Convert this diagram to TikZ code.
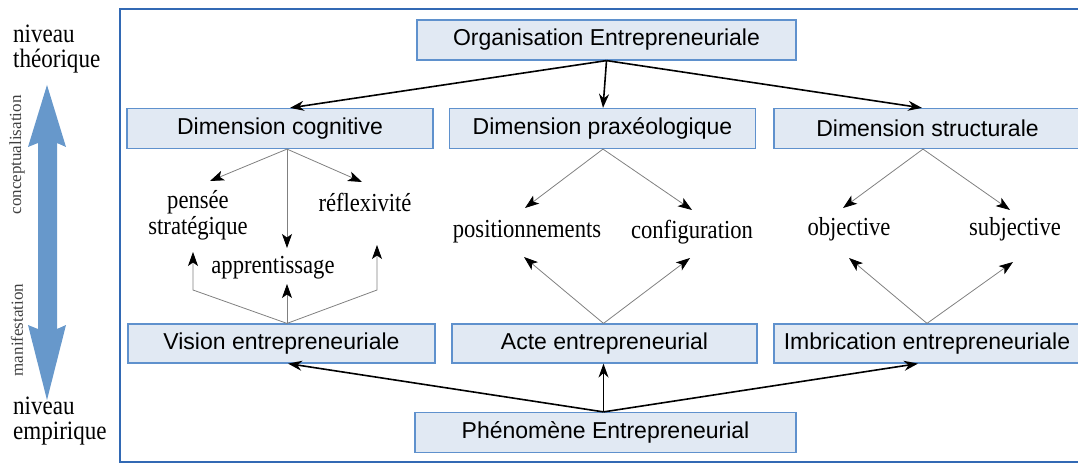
\documentclass[tikz,border=0pt]{standalone}
\usepackage{fontspec}
\setmainfont{Liberation Serif}
\newfontfamily\arialfont{Liberation Sans}
\newfontfamily\condserif[FakeStretch=0.87]{Liberation Serif}
\usetikzlibrary{arrows.meta}
\definecolor{boxfill}{RGB}{225,233,243}
\definecolor{boxedge}{RGB}{95,145,205}
\definecolor{frameblue}{RGB}{50,105,180}
\definecolor{bigarrow}{RGB}{103,152,203}
\tikzset{
  box/.style={draw=boxedge, line width=1.2pt, fill=boxfill, minimum height=40pt, inner sep=0pt,
    font=\arialfont\fontsize{23}{27}\selectfont},
  lbl/.style={inner sep=0pt, font=\condserif\fontsize{26}{28}\selectfont, align=center},
  side/.style={inner sep=0pt, font=\condserif\fontsize{26.5}{30}\selectfont, align=left, anchor=west},
  bigarr/.style={-{Stealth[length=14pt,width=10pt]}, line width=1.6pt, black},
  garr/.style={draw=gray, line width=0.8pt, -{Stealth[length=14pt,width=10pt,inset=3.5pt,black]}},
  rotlbl/.style={rotate=90, inner sep=0pt, font=\fontsize{17}{19}\selectfont, text=black!75},
}
\begin{document}
\begin{tikzpicture}[x=1pt,y=-1pt]
\useasboundingbox (0,0) rectangle (1078,470);
\begin{scope}
\clip (0,0) rectangle (1078,470);
% frame
\draw[frameblue, line width=2pt] (1100,9) -- (120,9) -- (120,462) -- (1100,462);
% boxes
\node[box, minimum width=379pt] (org) at (606.5,40) {Organisation Entrepreneuriale};
\node[box, minimum width=306pt] (dc) at (280,128.5) {Dimension cognitive};
\node[box, minimum width=306pt] (dp) at (602.5,128.5) {Dimension praxéologique};
\node[box, minimum width=307pt] (ds) at (927.5,128.5) {Dimension structurale};
\node[box, minimum width=307pt, minimum height=39pt] (ve) at (281.5,343.5) {Vision entrepreneuriale};
\node[box, minimum width=305pt, minimum height=39pt] (ae) at (604.5,343.5) {Acte entrepreneurial};
\node[box, minimum width=306pt, minimum height=39pt] (ie) at (927,343.5) {Imbrication entrepreneuriale};
\node[box, minimum width=381pt] (pe) at (605.5,432.5) {Phénomène Entrepreneurial};
\end{scope}
% big arrows
\draw[bigarr] (org.south) -- ([xshift=10pt]dc.north);
\draw[bigarr] (org.south) -- ([xshift=0.5pt]dp.north);
\draw[bigarr] (org.south) -- ([xshift=-5.5pt]ds.north);
\draw[bigarr] ([xshift=-2pt]pe.north) -- ([xshift=6.5pt]ve.south);
\draw[bigarr] ([xshift=-2pt]pe.north) -- ([xshift=-1pt]ae.south);
\draw[bigarr] ([xshift=-2pt]pe.north) -- ([xshift=-9pt]ie.south);
% inner labels
\node[lbl] (pst) at (198,215) {pensée\\[-2pt]stratégique};
\node[lbl] (refl) at (365,202) {réflexivité};
\node[lbl] (app) at (273,268) {apprentissage};
\node[lbl] (pos) at (527,232) {positionnements};
\node[lbl] (conf) at (692,232) {configuration};
\node[lbl] (obj) at (849,229) {objective};
\node[lbl] (subj) at (1015,229) {subjective};
% named arrow ends
\coordinate (dco) at ([xshift=7pt]dc.south);
\coordinate (veo) at ([xshift=5.5pt]ve.north);
\coordinate (a1) at (210,181);
\coordinate (a2) at (287,248);
\coordinate (a3) at (362,182);
\coordinate (b1) at (193,290);
\coordinate (b1t) at (193,252);
\coordinate (b2) at (287,284);
\coordinate (b3) at (377,290);
\coordinate (b3t) at (377,245);
\coordinate (p1) at (525,208);
\coordinate (p2) at (692,210);
\coordinate (q1) at (524,257);
\coordinate (q2) at (690,258);
\coordinate (s1) at (843,208);
\coordinate (s2) at (1010,210);
\coordinate (t1) at (849,258);
\coordinate (t2) at (1013,262);
\draw[garr] (dco) -- (a1);
\draw[garr] (dco) -- (a2);
\draw[garr] (dco) -- (a3);
\draw[garr] (veo) -- (b1) -- (b1t);
\draw[garr] (veo) -- (b2);
\draw[garr] (veo) -- (b3) -- (b3t);
\draw[garr] ([xshift=0.5pt]dp.south) -- (p1);
\draw[garr] ([xshift=0.5pt]dp.south) -- (p2);
\draw[garr] ([xshift=-1pt]ae.north) -- (q1);
\draw[garr] ([xshift=-1pt]ae.north) -- (q2);
\draw[garr] ([xshift=-4.5pt]ds.south) -- (s1);
\draw[garr] ([xshift=-4.5pt]ds.south) -- (s2);
\draw[garr] (ie.north) -- (t1);
\draw[garr] (ie.north) -- (t2);
% left side
\node[side] (nt) at (13,49) {niveau\\[-5pt]théorique};
\node[side] (ne) at (13,421) {niveau\\[-5pt]empirique};
\fill[bigarrow] (47,85) -- (66,147) -- (57,143) -- (57,329) -- (66,325) -- (47,400) -- (28,325) -- (38,329) -- (38,143) -- (28,147) -- cycle;
\node[rotlbl] (concept) at (17,155) {conceptualisation};
\node[rotlbl] (manif) at (17,330) {manifestation};
\end{tikzpicture}
\end{document}
